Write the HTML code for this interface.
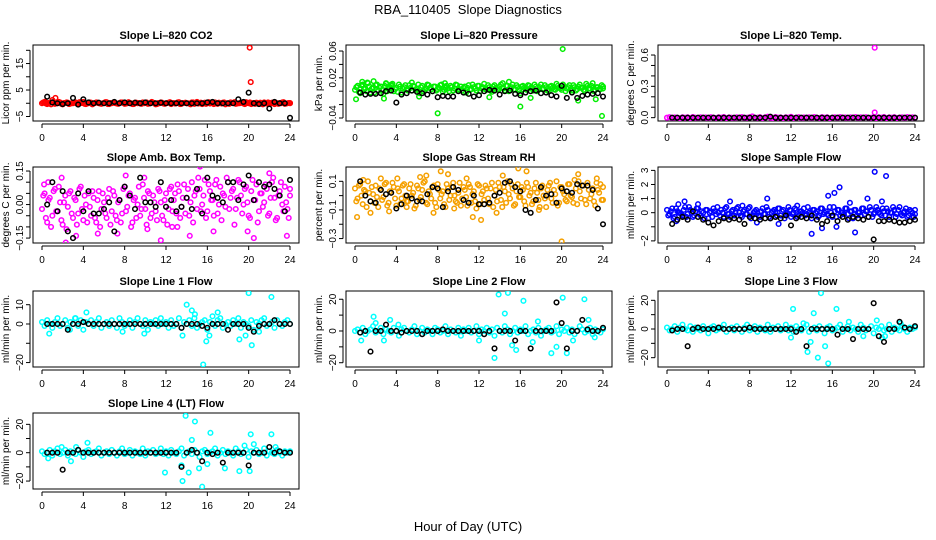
<!DOCTYPE html>
<html><head><meta charset="utf-8"><style>
html,body{margin:0;padding:0;background:#fff;}
svg{display:block;font-family:"Liberation Sans",Arial,sans-serif;}
</style></head><body>
<svg id="chart" width="936" height="540" viewBox="0 0 936 540" xmlns="http://www.w3.org/2000/svg">
<text x="468" y="14" text-anchor="middle" font-size="13">RBA_110405&#160; Slope Diagnostics</text>
<text x="468" y="531" text-anchor="middle" font-size="13">Hour of Day (UTC)</text>
</svg>
<script>
// ---------- data ----------
const hourTicks = [0,4,8,12,16,20,24];

// P1 CO2
const co2Cloud = [0,0.2,-0.3,0.1,0.4,-0.2,0,0.3,-0.4,0.1,0.2,-0.1,0,0.3,-0.2,0.1,0.5,-0.3,0,0.2,-0.1,0.3,0,-0.2,0.1,0.4,-0.3,0,0.2,-0.1,0.1,0.3,-0.2,0,0.1,-0.3,0.2,0,-0.1,0.3,0.1,-0.2,0,0.2,-0.4,0.1,0.3,-0.1,0,0.2,-0.3,0.1,0,0.4,-0.2,0.1,0,-0.1,0.3,-0.2,0.5,0,-0.3,0.2,0.1,-0.1,0,0.3,-0.2,0.1,0.2,-0.4,0,0.3,0.1,-0.2,0,0.2,-0.1,0.4,0,-0.3,0.1,0.2,-0.2,0,0.3,-0.1,0.1,0.2,-0.3,0,0.1,0.3,-0.2,0,0.1];
const co2Cloud2 = [0.3,-0.1,0.1,-0.4,0.2,0,0.5,-0.2,0.1,0.3,-0.3,0,0.2,-0.1,0.4,0.1,-0.2,0,0.3,-0.4,0.1,0.2,-0.1,0,0.4,-0.3,0.1,0.2,0,-0.2,0.3,0.1,-0.1,0.4,0,-0.3,0.2,0.1,-0.2,0,0.3,-0.1,0.5,0.1,-0.3,0,0.2,-0.2,0.1,0.4,0,-0.1,0.3,-0.3,0.1,0.2,0,-0.4,0.3,0.1,-0.1,0.2,0,-0.2,0.4,0.1,-0.3,0,0.2,-0.1,0.3,0,-0.2,0.1,0.4,-0.1,0,0.2,-0.3,0.1,0.3,0,-0.2,0.1,0.2,-0.4,0,0.3,-0.1,0.1,0.2,-0.2,0,0.4,-0.1,0.1,0];
const co2OutH = [1.3,20.1,20.2,0.3,1.0];
const co2OutV = [2,21,8,0.6,1.2];
const co2Black = [2.5,0.3,0,-0.3,0,2,-0.5,1.5,0.3,0,0.2,0,0,0.5,0,0.3,0,0.2,0,0.3,0,0,0.2,0,0,0,0,0,0,0,0,0.3,0.5,0,0,0,0,1.5,0.5,4,0,-0.3,0,-2,0.5,0,0,-5.5];

// P2 Pressure
const presCloud = [0.002,0.008,-0.003,0.010,0.004,0.012,-0.002,0.006,0.009,0.001,0.007,-0.004,0.011,0.003,0.008,0.000,0.005,0.010,-0.002,0.006,0.003,0.009,0.001,0.007,0.004,-0.003,0.008,0.002,0.010,0.005,0.000,0.007,0.003,0.009,-0.001,0.006,0.004,0.008,0.001,0.010,0.002,0.007,0.005,-0.002,0.009,0.003,0.006,0.001,0.008,0.004,0.011,0.002,0.006,-0.001,0.009,0.003,0.007,0.005,0.001,0.008,0.004,0.010,0.002,0.006,-0.003,0.008,0.003,0.009,0.005,0.001,0.007,0.002,0.010,0.004,0.006,0.000,0.008,0.003,0.011,0.005,0.002,0.007,0.004,0.009,0.001,0.006,0.003,0.010,0.005,0.000,0.008,0.004,0.012,0.002,0.006,0.003,0.007];
const presCloud2 = [0.006,-0.001,0.009,0.003,0.000,0.007,0.004,-0.002,0.010,0.005,0.002,0.008,0.000,0.006,0.011,0.003,-0.001,0.007,0.004,0.009,0.001,0.005,0.008,0.002,0.010,0.006,0.000,0.004,0.009,0.003,0.007,0.001,0.005,0.010,0.002,0.008,0.000,0.006,0.004,0.009,0.003,0.001,0.007,0.005,0.002,0.010,0.004,0.008,0.000,0.006,0.003,0.009,0.001,0.007,0.005,0.002,0.010,0.004,0.008,0.000,0.006,0.003,0.009,0.001,0.007,0.005,0.002,0.008,0.004,0.010,0.000,0.006,0.003,0.009,0.001,0.007,0.005,0.002,0.008,0.004,0.010,0.000,0.006,0.003,0.009,0.001,0.007,0.005,0.002,0.011,0.004,0.008,0.000,0.006,0.003,0.009,0.004];
const presOutH = [0.1,0.7,1.2,1.8,2.8,3.0,5.5,8.0,8.7,14.3,16.0,20.1,23.9,21.6,3.5,14.9,6.2,13.0,17.0,23.3];
const presOutV = [-0.012,0.014,0.013,0.015,-0.011,0.012,0.013,-0.033,0.012,0.012,-0.023,0.063,-0.037,-0.014,0.010,0.014,-0.008,-0.009,-0.010,-0.012];
const presBlack = [-0.002,-0.005,-0.004,-0.004,-0.003,0.000,0.001,-0.017,-0.005,-0.003,0.001,-0.001,-0.003,-0.005,0.000,-0.009,-0.007,-0.008,-0.008,0.000,-0.002,-0.004,-0.008,-0.006,0.000,0.002,0.001,-0.005,0.000,0.001,-0.004,-0.006,-0.002,0.000,0.001,-0.003,-0.002,-0.006,-0.008,0.008,-0.010,-0.002,-0.010,-0.007,-0.005,-0.004,-0.003,-0.008];

// P3 Li-820 Temp
const tempCloud = [0,0.005,-0.004,0.002,0,-0.006,0.004,0,0.003,-0.005,0.006,0,-0.003,0.004,0,0.002,-0.006,0.005,0,-0.002,0.004,0,0.006,-0.004,0.002,0,-0.005,0.003,0,0.006,-0.003,0,0.004,0.012,-0.002,0,0.005,-0.006,0.003,0.01,0,-0.004,0.006,0,0.002,-0.005,0.004,0,0.008,-0.003,0,0.005,-0.006,0.002,0,0.004,-0.004,0.006,0,-0.002,0.005,0,0.003,-0.006,0,0.004,-0.003,0.006,0,0.002,-0.005,0.004,0,0.006,-0.004,0.003,0,0.005,-0.002,0,0.004,-0.006,0.003,0,0.006,-0.004,0.002,0,0.005,-0.003,0,0.004,-0.005,0.006,0,0.003,0];
const tempOutH = [20.1,20.1];
const tempOutV = [0.67,0.05];
const tempBlack = [0,0,0,0,0,0,0,0,0,0,0,0,0,0,0,0,0,0,0,0.01,0,0,0,0,0,0,0,0,0,0,0,0,0,0,0,0,0,0,0,0,0,0,0,0,0,0,0,0];

// P4 Amb Box Temp
const ambCloud = [-0.02,0.05,-0.08,0.03,-0.05,0.07,-0.03,0.01,-0.09,0.04,-0.01,0.06,-0.06,0.02,-0.04,0.08,-0.07,0.00,0.05,-0.05,0.03,-0.08,0.06,-0.02,0.01,-0.06,0.07,-0.03,0.04,-0.07,0.02,-0.04,0.08,-0.01,0.05,-0.08,0.03,0.00,-0.05,0.09,-0.02,0.06,-0.06,0.04,-0.03,0.07,0.01,-0.07,0.05,-0.02,0.08,0.02,-0.04,0.06,-0.01,0.09,0.03,-0.05,0.10,0.04,-0.02,0.07,0.00,0.11,-0.03,0.06,0.02,0.09,-0.04,0.08,0.05,-0.01,0.10,0.03,0.07,-0.02,0.11,0.04,0.00,0.08,-0.05,0.06,0.02,0.09,-0.03,0.05,0.01,0.07,-0.04,0.10,0.03,-0.06,0.06,0.00,0.08,-0.02,0.04];
const ambCloud2 = [0.04,-0.06,0.02,-0.10,0.06,-0.03,0.08,-0.07,0.01,-0.11,0.05,-0.04,0.03,-0.09,0.07,-0.02,0.04,-0.08,-0.01,0.06,-0.06,0.02,-0.10,0.05,-0.04,0.03,-0.09,0.06,-0.05,0.01,-0.08,0.07,-0.03,0.04,-0.10,0.02,-0.06,0.08,-0.02,0.03,-0.09,0.05,-0.04,0.01,-0.07,0.06,-0.05,0.02,-0.09,0.07,-0.03,0.05,0.09,-0.06,0.03,-0.04,0.07,0.01,-0.08,0.06,0.12,-0.03,0.04,-0.06,0.09,0.02,-0.05,0.11,0.00,-0.07,0.04,0.12,-0.02,0.06,-0.09,0.03,0.10,-0.04,0.07,0.01,-0.06,0.11,0.02,-0.08,0.05,-0.01,0.09,-0.05,0.03,0.12,-0.07,0.04,0.10,-0.03,0.01,-0.06,0.07];
const ambOutH = [0.2,0.6,1.9,2.3,3.3,5.4,7.3,8.1,9.9,11.5,14.3,15.3,16.6,19.9,20.5,23.7,22.0,10.2,12.6,13.1];
const ambOutV = [0.09,0.10,0.12,-0.17,-0.14,-0.13,-0.13,0.13,0.12,-0.16,-0.14,0.17,-0.12,-0.12,-0.15,-0.14,0.14,-0.11,-0.10,-0.10];
const ambBlack = [0.00,0.10,-0.03,0.06,-0.12,-0.15,0.05,-0.03,0.06,-0.04,-0.04,-0.02,0.01,-0.12,0.02,0.08,0.04,-0.02,0.12,0.01,0.01,-0.01,0.10,-0.01,0.02,-0.03,-0.01,0.03,-0.02,0.07,-0.04,0.12,0.04,0.03,0.01,0.10,0.10,0.02,0.09,0.13,0.02,0.10,0.08,0.09,0.07,0.04,-0.03,0.11];

// P5 Gas Stream RH
const rhCloud = [0.05,-0.02,0.08,-0.06,0.03,0.10,-0.04,0.01,0.07,-0.08,0.04,-0.01,0.09,-0.05,0.02,0.06,-0.07,0.03,-0.02,0.08,-0.04,0.05,0.00,-0.09,0.07,-0.03,0.04,0.10,-0.06,0.01,0.06,-0.05,0.08,-0.02,0.03,-0.08,0.05,0.00,0.09,-0.04,0.02,-0.07,0.06,-0.01,0.08,-0.05,0.03,-0.09,0.07,0.01,-0.03,0.05,-0.06,0.09,0.00,-0.04,0.06,-0.08,0.03,0.10,-0.02,0.05,-0.06,0.08,-0.01,0.04,-0.07,0.06,0.02,-0.04,0.09,-0.03,0.05,0.00,-0.08,0.07,-0.02,0.04,0.10,-0.05,0.06,0.01,-0.04,0.08,-0.01,0.11,-0.06,0.03,0.07,-0.03,0.09,-0.02,0.05,-0.07,0.04,0.08,-0.03];
const rhCloud2 = [-0.04,0.07,0.00,0.04,-0.08,0.02,0.06,-0.05,-0.01,0.05,-0.03,0.08,-0.07,0.03,0.09,-0.02,0.05,-0.06,0.07,0.00,-0.04,0.08,0.02,-0.07,0.05,-0.01,0.09,-0.05,0.03,-0.02,0.07,-0.08,0.04,0.01,-0.06,0.08,-0.03,0.06,0.00,-0.05,0.09,-0.02,0.04,-0.07,0.06,0.01,-0.04,0.08,-0.06,0.03,0.07,-0.02,0.05,-0.08,0.04,0.09,-0.03,0.06,-0.05,0.01,0.08,-0.07,0.03,-0.01,0.06,-0.04,0.09,0.00,-0.06,0.05,0.02,-0.08,0.07,-0.02,0.04,0.09,-0.05,0.01,-0.07,0.06,0.03,-0.03,0.08,0.00,-0.05,0.05,0.10,-0.02,0.07,-0.06,0.04,0.01,-0.04,0.09,0.02,-0.03,0.06];
const rhOutH = [0.2,0.8,1.5,2.5,3.3,4.1,5.0,6.3,7.6,8.3,9.0,9.6,10.8,11.4,12.2,14.3,15.8,16.6,17.8,20.0,21.6,23.4,6.9,13.7];
const rhOutV = [-0.15,0.11,-0.12,0.12,-0.11,0.12,-0.08,0.13,-0.12,0.17,0.15,-0.09,0.12,-0.15,-0.17,0.14,0.19,0.17,-0.10,-0.32,0.15,0.12,0.14,-0.12];
const rhBlack = [0.10,0.00,-0.04,-0.05,0.04,0.01,0.02,-0.09,-0.06,0.00,-0.02,-0.04,-0.04,0.01,0.06,0.05,-0.08,0.03,0.06,0.04,-0.03,-0.05,0.00,-0.06,-0.06,-0.05,0.00,0.02,0.09,0.10,0.06,0.03,-0.10,-0.12,-0.03,0.06,0.00,0.01,-0.05,0.05,0.03,0.02,0.08,0.07,0.07,0.04,-0.09,-0.20];

// P6 Sample Flow
const sfCloud = [0.2,-0.1,0.3,-0.3,0.1,0.0,-0.2,0.4,-0.1,0.2,-0.3,0.1,0.3,-0.2,0.0,0.2,-0.4,0.1,0.3,-0.1,0.0,0.2,-0.3,0.4,-0.1,0.1,-0.2,0.3,0.0,-0.3,0.2,-0.1,0.4,-0.2,0.1,0.0,-0.3,0.3,-0.1,0.2,-0.4,0.1,0.0,0.3,-0.2,0.2,-0.1,0.4,-0.3,0.0,0.2,-0.2,0.1,0.3,-0.1,0.0,-0.4,0.2,0.1,-0.2,0.3,0.0,-0.1,0.4,-0.3,0.1,0.2,-0.2,0.0,0.3,-0.1,0.1,-0.4,0.2,0.0,-0.2,0.3,0.1,-0.3,0.2,-0.1,0.4,0.0,-0.2,0.1,0.3,-0.3,0.0,0.2,-0.1,0.4,-0.2,0.1,-0.3,0.2,0.0,-0.1];
const sfCloud2 = [-0.2,0.1,-0.4,0.3,0.0,-0.1,0.2,-0.3,0.4,0.0,-0.2,0.3,-0.1,0.1,-0.4,0.2,0.0,-0.3,0.1,0.4,-0.2,0.0,0.3,-0.1,-0.3,0.2,0.0,0.4,-0.2,0.1,-0.1,0.3,-0.4,0.0,0.2,-0.2,0.1,-0.1,0.4,-0.3,0.0,0.2,-0.2,0.3,0.1,-0.4,0.0,0.2,-0.1,0.3,-0.3,0.1,0.0,-0.2,0.4,-0.1,0.2,0.0,-0.3,0.3,-0.1,0.1,-0.2,0.0,0.4,-0.3,0.2,0.0,-0.1,0.3,-0.4,0.1,0.2,-0.2,0.0,0.3,-0.1,0.1,0.4,-0.3,0.0,0.2,-0.1,0.3,-0.2,0.1,0.0,0.4,-0.3,0.2,-0.1,0.0,0.3,-0.2,0.1,-0.3,0.2];
const sfOutH = [1.1,1.7,3.0,6.1,9.7,8.7,10.8,14.0,15.0,15.6,16.2,16.7,17.7,18.2,19.4,20.1,21.2,20.8,16.4,0.9,12.6,7.3];
const sfOutV = [0.6,0.8,0.6,0.8,1.0,-0.7,-0.8,-1.5,-1.1,1.2,1.4,1.8,0.7,-1.4,1.0,2.9,2.6,0.8,-1.0,-0.6,0.5,0.5];
const sfBlack = [-0.8,-0.5,-0.3,-0.5,0.1,-0.3,-0.5,-0.7,-0.9,-0.6,-0.4,-0.5,-0.4,-0.5,-0.8,-0.3,-0.4,-0.5,-0.4,-0.4,-0.3,-0.4,-0.2,-0.9,-0.4,-0.3,-0.4,-0.2,-0.5,-0.8,-0.6,-0.2,-0.6,-0.3,-0.5,-0.3,-0.4,-0.5,-0.3,-1.9,-0.6,-0.6,-0.5,-0.6,-0.7,-0.7,-0.6,-0.5];

// P7-P10 line flows
const l1Cloud = [1,-1,2,0,-2,1,3,-1,0,2,-2,1,0,3,-1,2,-3,1,0,2,-1,1,3,-2,0,1,-1,2,0,-2,3,1,-1,0,2,-2,1,3,0,-1,2,-3,1,0,2,-1,3,0,1,-2,2,-1,0,3,-2,1,0,2,-1,3,-2,0,1,2,-3,1,0,-1,2,3,-2,0,1,-1,2,0,3,-2,1,0,-1,2,-3,1,0,2,3,-1,0,1,-2,2,0,-1,1,2,0];
const l1OutH = [0.7,2.7,4.3,7.8,9.9,14.0,14.5,14.8,13.6,15.6,15.9,16.2,17.0,19.1,19.7,20.0,20.3,22.2,21.0,16.5,3.2];
const l1OutV = [-5,-3,6,-4,-5,10,7,5,-6,-21,-9,-6,6,-8,-6,16,-11,14,-4,4,3];
const l1Black = [0,0,0,0,-3,0,0,1,0,0,0,0,0,0,0,0,0,0,0,0,0,0,0,0,0,0,-2,0,0,0,-1,-2,0,0,0,-3,0,0,0,-2,-4,-1,0,0,2,0,0,0];
const l2Cloud = [0,1,-1,2,-2,0,1,3,-1,0,2,-2,1,0,-1,2,0,-3,1,2,0,-1,1,3,-2,0,2,-1,1,0,-2,2,1,-1,0,3,-2,1,0,-1,2,-3,1,0,2,-1,0,3,-2,1,0,2,-1,1,-3,2,0,-1,3,1,-2,0,2,-1,1,0,3,-2,0,1,-1,2,-3,0,1,2,-1,0,3,-2,1,0,2,-1,1,-2,0,3,1,-1,0,2,-2,1,0,-1,1];
const l2OutH = [0.6,1.8,2.0,2.8,3.4,4.2,12.0,13.5,13.9,14.5,14.8,15.2,15.6,16.3,17.2,17.7,19.0,19.5,20.1,20.5,21.1,22.2,22.6,23.2];
const l2OutV = [-6,9,5,-6,7,4,-6,-17,23,11,24,-9,-12,19,-7,6,-14,-10,21,-14,-6,20,7,-4];
const l2Black = [-1,0,-13,0,0,4,0,0,-1,0,0,0,-2,0,0,0,1,0,0,0,0,0,0,0,-2,0,-11,0,0,0,-6,0,0,-11,0,0,0,0,18,5,-11,0,0,7,1,0,0,2];
const l3Cloud = [1,-1,0,2,-2,1,3,0,-1,2,-2,1,0,-1,2,0,-3,1,2,-1,0,1,3,-2,0,1,-1,2,0,-2,1,3,-1,0,2,-2,1,0,-1,3,-2,1,0,2,-1,0,3,-1,1,-2,2,0,-1,1,3,-2,0,1,-1,2,0,-3,1,2,-1,0,1,3,-2,0,2,-1,1,0,-2,3,1,-1,0,2,-3,1,0,2,-1,0,3,-2,1,0,-1,2,0,-2,1,0,1];
const l3OutH = [12.2,13.6,13.9,14.2,14.6,14.9,15.3,15.6,16.4,12.0,20.3,21.1,22.6,19.0,13.2,17.6,20.8];
const l3OutV = [14,-16,-9,11,-20,25,-12,-24,14,-6,6,-5,4,-5,4,5,-6];
const l3Black = [-1,0,0,-12,0,1,0,0,0,1,0,0,0,0,0,1,0,0,0,0,0,0,0,0,-2,0,-12,0,0,0,0,0,-4,0,0,-7,0,0,0,18,-5,-9,0,0,5,1,0,2];
const l4Cloud = [1,-1,0,2,-2,1,3,-1,0,2,-2,1,0,-1,2,0,-3,1,2,-1,0,1,3,-2,0,1,-1,2,0,-2,1,3,-1,0,2,-2,1,0,-1,3,-2,1,0,2,-1,0,3,-1,1,-2,2,0,-1,1,3,-2,0,1,-1,2,0,-3,1,2,-1,0,1,3,-2,0,2,-1,1,0,-2,3,1,-1,0,2,-3,1,0,2,-1,0,3,-2,1,0,-1,2,0,-2,1,0,1];
const l4OutH = [0.6,1.9,2.8,3.3,4.4,11.9,13.6,13.9,14.2,14.5,14.8,15.2,15.5,16.3,17.7,19.1,19.6,20.1,20.2,20.5,22.2,22.6,16.0,13.5];
const l4OutV = [-4,4,-6,4,7,-14,-20,26,-14,9,22,-11,-24,14,-11,-13,5,-13,13,6,13,4,-8,-9];
const l4Black = [0,0,0,-12,0,0,2,0,0,0,0,0,0,0,0,0,0,0,0,0,0,0,0,0,0,0,-10,0,2,0,-6,0,-1,0,-7,0,0,0,0,-9,0,0,0,4,0,1,0,0];

// ---------- layout ----------
const NS = "http://www.w3.org/2000/svg";
const svg = document.getElementById('chart');
const colL = [33, 346, 658];
const rowT = [45, 167, 291, 413];
const BW = 266, BH = 76;
const PR = 2.3;

function mk(tag, attrs, parent) {
  const e = document.createElementNS(NS, tag);
  for (const k in attrs) e.setAttribute(k, attrs[k]);
  (parent || svg).appendChild(e);
  return e;
}

const panels = [
  {c:0,r:0,name:'co2',title:'Slope Li\u2013820 CO2',ylab:'Licor ppm per min.',ymin:-6.7,ymax:22,ticks:[-5,0,5,10,15,20],labels:[-5,5,15],labTxt:['\u22125','5','15'],col:'#ff0000',clouds:[co2Cloud,co2Cloud2],oh:co2OutH,ov:co2OutV,black:co2Black},
  {c:1,r:0,name:'pressure',title:'Slope Li\u2013820 Pressure',ylab:'kPa per min.',ymin:-0.0445,ymax:0.069,ticks:[-0.04,-0.02,0,0.02,0.04,0.06],labels:[-0.04,0.02,0.06],labTxt:['\u22120.04','0.02','0.06'],col:'#00ee00',clouds:[presCloud,presCloud2],oh:presOutH,ov:presOutV,black:presBlack},
  {c:2,r:0,name:'li820-temp',title:'Slope Li\u2013820 Temp.',ylab:'degrees C per min.',ymin:-0.032,ymax:0.696,ticks:[0,0.1,0.2,0.3,0.4,0.5,0.6],labels:[0,0.3,0.6],labTxt:['0.0','0.3','0.6'],col:'#ff00ff',clouds:[tempCloud],oh:tempOutH,ov:tempOutV,black:tempBlack},
  {c:0,r:1,name:'amb-box-temp',title:'Slope Amb. Box Temp.',ylab:'degrees C per min.',ymin:-0.172,ymax:0.168,ticks:[-0.15,-0.1,-0.05,0,0.05,0.1,0.15],labels:[-0.15,0,0.15],labTxt:['\u22120.15','0.00','0.15'],col:'#ff00ff',clouds:[ambCloud,ambCloud2],oh:ambOutH,ov:ambOutV,black:ambBlack},
  {c:1,r:1,name:'gas-stream-rh',title:'Slope Gas Stream RH',ylab:'percent per min.',ymin:-0.331,ymax:0.2,ticks:[-0.3,-0.2,-0.1,0,0.1],labels:[-0.3,-0.1,0.1],labTxt:['\u22120.3','\u22120.1','0.1'],col:'#f5a000',clouds:[rhCloud,rhCloud2],oh:rhOutH,ov:rhOutV,black:rhBlack},
  {c:2,r:1,name:'sample-flow',title:'Slope Sample Flow',ylab:'ml/min per min.',ymin:-2.15,ymax:3.24,ticks:[-2,-1,0,1,2,3],labels:[-2,0,1,2,3],labTxt:['\u22122','0','1','2','3'],col:'#0000ff',clouds:[sfCloud,sfCloud2],oh:sfOutH,ov:sfOutV,black:sfBlack},
  {c:0,r:2,name:'line1-flow',title:'Slope Line 1 Flow',ylab:'ml/min per min.',ymin:-22.3,ymax:17.1,ticks:[-20,-10,0,10],labels:[-20,0,10],labTxt:['\u221220','0','10'],col:'#00ffff',clouds:[l1Cloud],oh:l1OutH,ov:l1OutV,black:l1Black},
  {c:1,r:2,name:'line2-flow',title:'Slope Line 2 Flow',ylab:'ml/min per min.',ymin:-22.7,ymax:25.2,ticks:[-20,-10,0,10,20],labels:[-20,0,20],labTxt:['\u221220','0','20'],col:'#00ffff',clouds:[l2Cloud],oh:l2OutH,ov:l2OutV,black:l2Black},
  {c:2,r:2,name:'line3-flow',title:'Slope Line 3 Flow',ylab:'ml/min per min.',ymin:-26.5,ymax:26.5,ticks:[-20,-10,0,10,20],labels:[-20,0,20],labTxt:['\u221220','0','20'],col:'#00ffff',clouds:[l3Cloud],oh:l3OutH,ov:l3OutV,black:l3Black},
  {c:0,r:3,name:'line4-lt-flow',title:'Slope Line 4 (LT) Flow',ylab:'ml/min per min.',ymin:-25.6,ymax:28,ticks:[-20,-10,0,10,20],labels:[-20,0,20],labTxt:['\u221220','0','20'],col:'#00ffff',clouds:[l4Cloud],oh:l4OutH,ov:l4OutV,black:l4Black}
];

panels.forEach(p => {
  const L = colL[p.c], T = rowT[p.r];
  const g = mk('g', {});
  
  
  const xs = h => L + 9 + h * (BW - 18) / 24;
  const ys = v => T + BH - (v - p.ymin) / (p.ymax - p.ymin) * BH;

  const t = mk('text', {x: L + BW/2, y: T - 6, 'text-anchor':'middle', 'font-size':'11', 'font-weight':'bold'}, g);
  t.textContent = p.title;
  
  

  const yl = mk('text', {x:0, y:0, 'text-anchor':'middle', 'font-size':'10', transform:`translate(${L-24},${T+BH/2}) rotate(-90)`}, g);
  yl.textContent = p.ylab;
  
  

  const xa = mk('g', {}, g);
  
  
  mk('line', {x1: xs(hourTicks[0]), x2: xs(hourTicks[hourTicks.length-1]), y1: T+BH+3, y2: T+BH+3, stroke:'#000'}, xa);
  hourTicks.forEach(h => {
    mk('line', {x1: xs(h), x2: xs(h), y1: T+BH+3, y2: T+BH+7, stroke:'#000'}, xa);
    const tl = mk('text', {x: xs(h), y: T+BH+20, 'text-anchor':'middle', 'font-size':'10'}, xa);
    tl.textContent = h;
    
    
  });

  const ya = mk('g', {}, g);
  
  
  mk('line', {x1: L-3, x2: L-3, y1: ys(p.ticks[0]), y2: ys(p.ticks[p.ticks.length-1]), stroke:'#000'}, ya);
  p.ticks.forEach(v => mk('line', {x1: L-7, x2: L-3, y1: ys(v), y2: ys(v), stroke:'#000'}, ya));
  p.labels.forEach((v, i) => {
    const tl = mk('text', {x:0, y:0, 'text-anchor':'middle', 'font-size':'10', transform:`translate(${L-10},${ys(v)}) rotate(-90)`}, ya);
    tl.textContent = p.labTxt[i];
    
    
  });

  const box = mk('rect', {x: L, y: T, width: BW, height: BH, fill:'none', stroke:'#000'}, g);
  
  

  const clip = mk('clipPath', {id: 'clip-' + p.name}, g);
  mk('rect', {x: L, y: T, width: BW, height: BH}, clip);
  const pts = mk('g', {'clip-path': `url(#clip-${p.name})`, fill:'none', 'stroke-width':'1.5'}, g);
  
  

  p.clouds.forEach((arr, k) => {
    const n = arr.length;
    arr.forEach((v, i) => {
      const h = (i + (k ? 0.5 : 0)) * 24 / (n - 1);
      const c = mk('circle', {cx: xs(Math.min(h, 24)), cy: ys(v), r: PR, stroke: p.col}, pts);
      
      
    });
  });
  p.oh.forEach((h, i) => {
    const c = mk('circle', {cx: xs(h), cy: ys(p.ov[i]), r: PR, stroke: p.col}, pts);
    
    
  });
  p.black.forEach((v, i) => {
    const h = 0.5 * (i + 1);
    const c = mk('circle', {cx: xs(h), cy: ys(v), r: PR, stroke: '#000'}, pts);
    
    
  });
});
</script>
</body></html>
